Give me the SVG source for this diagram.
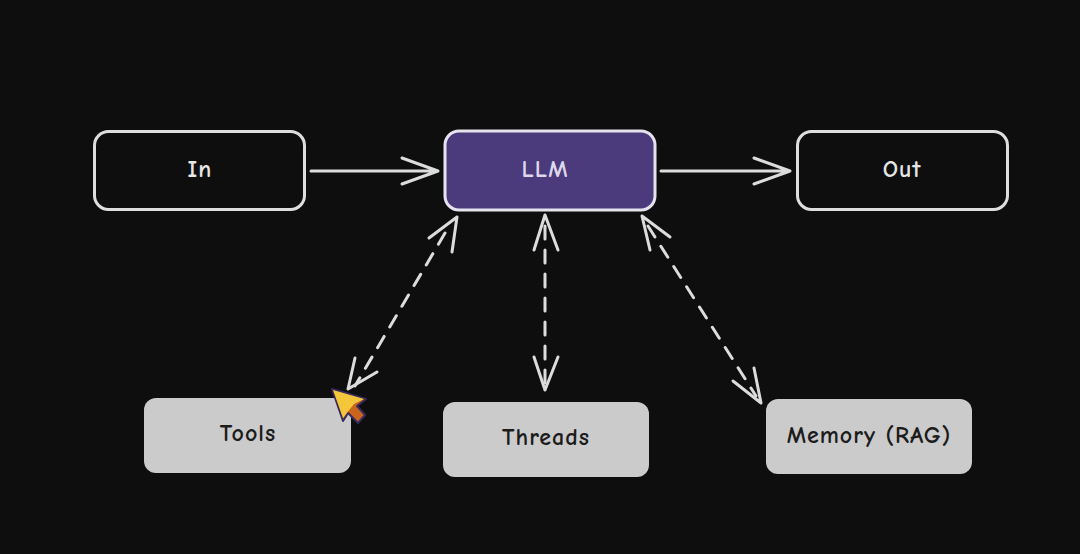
<svg xmlns="http://www.w3.org/2000/svg" width="1080" height="554" viewBox="0 0 1080 554">
<style>
.t{font-family:"Comic Neue","Comic Sans MS","DejaVu Sans",sans-serif;font-size:24px;font-weight:700;text-anchor:middle;letter-spacing:1px}
.o{fill:none;stroke:#dedede;stroke-width:3}
.g{fill:#cbcbcb}
.a{fill:none;stroke:#dcdcdc;stroke-width:3;stroke-linecap:round;stroke-linejoin:round}
.d{stroke-dasharray:13 11}
.l{fill:#e6e6e6}
.k{fill:#1c1c1c}
</style>
<rect width="1080" height="554" fill="#0e0e0f"/>
<g id="connectors">
<path class="a" d="M311 171H438M402 158L438 171L402 184"/>
<path class="a" d="M661 171H790M754 158L790 171L754 184"/>
<path class="a d" d="M445 233L355 386"/>
<path class="a" d="M457 217L452 252M457 217L429 238"/>
<path class="a" d="M348 389L355 358M348 389L377 372"/>
<path class="a d" d="M545 226V384"/>
<path class="a" d="M545 215L534 250M545 215L558 250"/>
<path class="a" d="M545 390L534 357M545 390L558 357"/>
<path class="a d" d="M648 226L756 396"/>
<path class="a" d="M642 216L670 237M642 216L650 250"/>
<path class="a" d="M761 403L733 381M761 403L754 368"/>
</g>
<g id="in"><rect class="o" x="94.500" y="131.500" width="210" height="78" rx="14"/><text class="t l" x="200" y="177">In</text></g>
<g id="llm"><rect x="445" y="131" width="210" height="79" rx="14" fill="#4b3a7c" stroke="#e6e3ee" stroke-width="3"/><text class="t" x="545" y="177" fill="#ddd8ec">LLM</text></g>
<g id="out"><rect class="o" x="797.500" y="131.500" width="210" height="78" rx="14"/><text class="t l" x="902" y="177">Out</text></g>
<g id="tools"><rect class="g" x="144" y="398" width="207" height="75" rx="12"/><text class="t k" x="248" y="441">Tools</text></g>
<g id="threads"><rect class="g" x="443" y="402" width="206" height="75" rx="12"/><text class="t k" x="546" y="445">Threads</text></g>
<g id="memory"><rect class="g" x="766" y="399" width="206" height="75" rx="12"/><text class="t k" x="869" y="443">Memory (RAG)</text></g>
<g id="cursor">
<path d="M332 389L366 399L357 406L365 415L358 423L348 413L343 421Z" fill="#c9661c" stroke="#3a2a5e" stroke-width="2" stroke-linejoin="round"/>
<path d="M333 390L364 399L354 404L350 409L343 418Z" fill="#f4c63a"/>
</g>
</svg>
